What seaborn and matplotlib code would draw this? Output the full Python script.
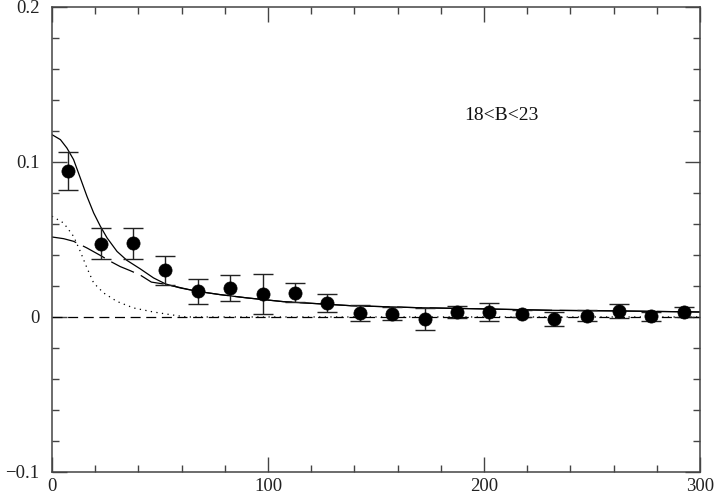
import matplotlib
matplotlib.use("Agg")
import matplotlib.pyplot as plt
from matplotlib.ticker import MultipleLocator
import seaborn as sns
import pandas as pd

# binned points with errors
bin_x = [7.5, 22.5, 37.5, 52.5, 67.5, 82.5, 97.5, 112.5, 127.5, 142.5,
         157.5, 172.5, 187.5, 202.5, 217.5, 232.5, 247.5, 262.5, 277.5, 292.5]
bin_y = [0.0944, 0.0472, 0.0474, 0.0300, 0.0165, 0.0187, 0.0150, 0.0157, 0.0090, 0.0023,
         0.0022, -0.0012, 0.0030, 0.0035, 0.0022, -0.0013, 0.0008, 0.0039, 0.0005, 0.0032]
bin_err = [0.0122, 0.0101, 0.0101, 0.0095, 0.0080, 0.0086, 0.0130, 0.0063, 0.0059, 0.0052,
           0.0043, 0.0070, 0.0039, 0.0058, 0.0024, 0.0045, 0.0036, 0.0043, 0.0030, 0.0031]

# model curves
total_x = [0, 3.9, 6.9, 10, 13.1, 16.2, 19.3, 22.4, 25.5, 30.1, 34.7, 40.9, 47, 52.6,
           59.4, 67.6, 77.9, 90.3, 107, 138, 169, 200, 231, 262, 300]
total_y = [0.1176, 0.1144, 0.109, 0.1015, 0.0897, 0.0778, 0.0671, 0.0585, 0.051, 0.0423,
           0.0365, 0.031, 0.0252, 0.0213, 0.0187, 0.0165, 0.0144, 0.0123, 0.0099, 0.0073,
           0.006, 0.0052, 0.0043, 0.0039, 0.0032]

halo_x = [0, 5.4, 10, 16.2, 22.4, 27, 31.6, 36, 40.9, 46, 52, 57, 63, 67.6,
          77.9, 90.3, 107, 138, 169, 200, 231, 262, 300]
halo_y = [0.0516, 0.0505, 0.0488, 0.0445, 0.0397, 0.0359, 0.0325, 0.030, 0.027, 0.0225,
          0.0212, 0.0197, 0.0178, 0.0165, 0.0144, 0.0123, 0.0099, 0.0073, 0.006, 0.0052,
          0.0043, 0.0039, 0.0032]

core_x = [0, 5.4, 10, 13.1, 16.2, 19.3, 23.9, 30.1, 37.8, 47, 54.8, 62, 300]
core_y = [0.065, 0.0606, 0.052, 0.0423, 0.0316, 0.0219, 0.0155, 0.010, 0.0058, 0.0032,
          0.0015, 0.0, 0.0]

zero_x = [0, 300]
zero_y = [0, 0]

x_ticks = [0, 100, 200, 300]
x_labels = ["0", "100", "200", "300"]
y_ticks = [-0.1, 0, 0.1, 0.2]
y_labels = ["\u22120.1", "0", "0.1", "0.2"]
label_text = "18<B<23"

sns.set_theme(style="ticks")
plt.rcParams['font.family'] = ['Liberation Serif', 'DejaVu Serif']

fig, ax = plt.subplots(figsize=(7.15, 4.95), dpi=100)
fig.subplots_adjust(left=0.0727, right=0.979, bottom=0.0465, top=0.986)

lw = 0.9
sns.lineplot(x=zero_x, y=zero_y, ax=ax, color="black", lw=lw, estimator=None,
             sort=False).lines[-1].set_dashes([8, 4.5])
sns.lineplot(x=core_x, y=core_y, ax=ax, color="black", lw=lw, estimator=None,
             sort=False).lines[-1].set_dashes([1, 3.5])
sns.lineplot(x=halo_x, y=halo_y, ax=ax, color="black", lw=lw, estimator=None,
             sort=False).lines[-1].set_dashes([20, 6])
sns.lineplot(x=total_x, y=total_y, ax=ax, color="black", lw=lw, estimator=None,
             sort=False)

pts = pd.DataFrame({"x": bin_x, "y": bin_y, "err": bin_err})
ax.errorbar(pts["x"], pts["y"], yerr=pts["err"], fmt="none", ecolor="#222222",
            elinewidth=1.0, capsize=7.2, capthick=1.0)
sns.scatterplot(data=pts, x="x", y="y", ax=ax, s=90, color="black",
                edgecolor="black", linewidth=0.5, zorder=5)

ax.text(191, 0.13, label_text, fontsize=14, color="#111111", va="center", ha="left")

ax.set_xlim(0, 300)
ax.set_ylim(-0.1, 0.2)
ax.set_xticks(x_ticks)
ax.set_xticklabels(x_labels)
ax.set_yticks(y_ticks)
ax.set_yticklabels(y_labels)
ax.xaxis.set_minor_locator(MultipleLocator(20))
ax.yaxis.set_minor_locator(MultipleLocator(0.02))
ax.set_xlabel("")
ax.set_ylabel("")

ax.tick_params(which="both", direction="in", top=True, right=True,
               color="#444444", width=1.0, labelsize=13.5, labelcolor="#222222")
ax.tick_params(which="major", length=10.8)
ax.tick_params(which="minor", length=5.2)
ax.tick_params(axis="y", which="major", pad=9)
ax.tick_params(axis="x", which="major", pad=4)
for s in ax.spines.values():
    s.set_visible(True)
    s.set_color("#444444")
    s.set_linewidth(1.1)
ax.grid(False)

plt.savefig("out.png", dpi=100)
